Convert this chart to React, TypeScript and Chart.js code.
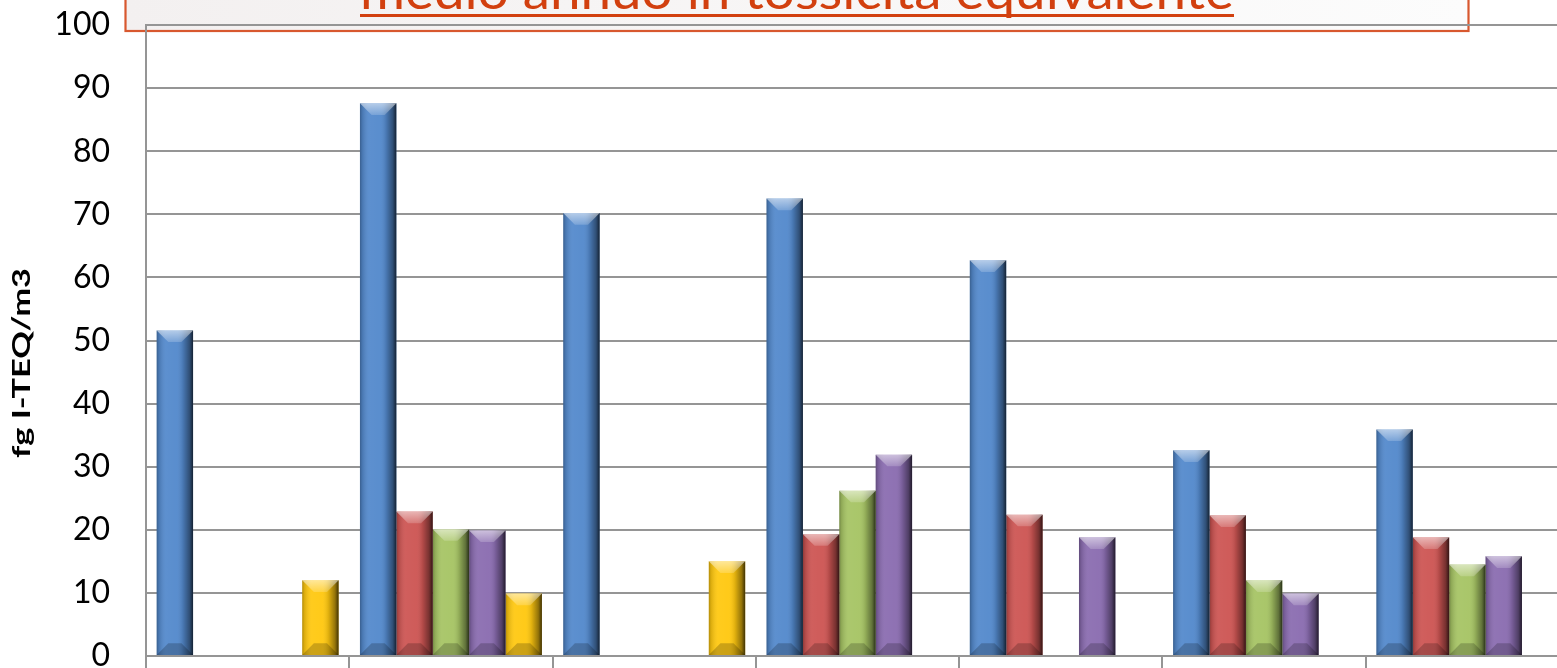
import React, { useEffect, useRef } from 'react';
import { Chart, registerables } from 'chart.js';

Chart.register(...registerables);

// ---- data ----
const categories = ['1', '2', '3', '4', '5', '6', '7'];
const seriesNames = ['Serie 1', 'Serie 2', 'Serie 3', 'Serie 4', 'Serie 5'];
const blueValues = [51.6, 87.6, 70.2, 72.5, 62.7, 32.6, 35.9];
const redValues = [null, 22.9, null, 19.3, 22.4, 22.3, 18.8];
const greenValues = [null, 20.1, null, 26.2, null, 12.0, 14.5];
const purpleValues = [null, 19.9, null, 31.9, 18.8, 9.9, 15.8];
const yellowValues = [12.0, 9.9, 15.0, null, null, null, null];
const yMin = 0;
const yMax = 100;
const yStep = 10;
const yAxisTitle = 'fg I-TEQ/m3';
const chartTitle = 'medio annuo in tossicità equivalente';

const seriesValues = [blueValues, redValues, greenValues, purpleValues, yellowValues];
const seriesColors = ['#5389cc', '#cd5553', '#a6c464', '#8a6cb0', '#ffc810'];

const GRID = '#959595';

const titleBoxPlugin = {
  id: 'titleBox',
  beforeDraw(chart: any) {
    const ctx = chart.ctx as CanvasRenderingContext2D;
    ctx.save();
    const bx = 125.5, by = -30, bw = 1343, bh = 61;
    const g = ctx.createLinearGradient(bx, 0, bx + bw, 0);
    g.addColorStop(0, '#f3f0f0');
    g.addColorStop(1, '#fcfcfc');
    ctx.fillStyle = g;
    ctx.fillRect(bx, by, bw, bh);
    ctx.strokeStyle = '#d8582f';
    ctx.lineWidth = 2.2;
    ctx.strokeRect(bx, by, bw, bh);
    // title text (only its lower part is visible)
    ctx.font = "50px Lato, 'Liberation Sans', sans-serif";
    ctx.fillStyle = '#d2400f';
    ctx.textAlign = 'left';
    ctx.textBaseline = 'alphabetic';
    const tw = ctx.measureText(chartTitle).width;
    const targetW = 874;
    ctx.save();
    ctx.translate(360, 9);
    ctx.scale(targetW / tw, 1);
    ctx.fillText(chartTitle, 0, 0);
    ctx.restore();
    ctx.fillRect(360, 14, targetW, 3);
    ctx.restore();
  },
};

const yTitlePlugin = {
  id: 'yTitle',
  afterDraw(chart: any) {
    const ctx = chart.ctx as CanvasRenderingContext2D;
    ctx.save();
    ctx.font = "bold 24px Lato, 'Liberation Sans', sans-serif";
    ctx.fillStyle = '#000';
    ctx.textAlign = 'center';
    ctx.textBaseline = 'alphabetic';
    const tw = ctx.measureText(yAxisTitle).width;
    ctx.translate(29.5, 363);
    ctx.rotate(-Math.PI / 2);
    ctx.scale(190 / tw, 1);
    ctx.fillText(yAxisTitle, 0, 0);
    ctx.restore();
  },
};

const bevelPlugin = {
  id: 'bevel',
  afterDatasetsDraw(chart: any) {
    const ctx = chart.ctx as CanvasRenderingContext2D;
    ctx.save();
    chart.data.datasets.forEach((ds: any, i: number) => {
      const meta = chart.getDatasetMeta(i);
      meta.data.forEach((el: any, j: number) => {
        if (ds.data[j] === null || ds.data[j] === undefined) return;
        const p = el.getProps(['x', 'y', 'base', 'width'], true);
        const l = p.x - p.width / 2;
        const r = p.x + p.width / 2;
        const t = Math.min(p.y, p.base);
        const b = Math.max(p.y, p.base);
        const w = r - l;
        const h = b - t;
        if (w <= 0 || h <= 0) return;
        const bv = Math.min(w * 0.32, h / 2, 12);
        const g = ctx.createLinearGradient(l, 0, r, 0);
        g.addColorStop(0, 'rgba(0,0,0,0.30)');
        g.addColorStop(0.06, 'rgba(0,0,0,0.14)');
        g.addColorStop(0.25, 'rgba(255,255,255,0.06)');
        g.addColorStop(0.55, 'rgba(255,255,255,0.04)');
        g.addColorStop(0.72, 'rgba(0,0,0,0.12)');
        g.addColorStop(0.9, 'rgba(0,0,0,0.42)');
        g.addColorStop(1, 'rgba(0,0,0,0.75)');
        ctx.fillStyle = g;
        ctx.fillRect(l, t, w, h);
        // top facet
        const tg = ctx.createLinearGradient(0, t, 0, t + bv);
        tg.addColorStop(0, 'rgba(255,255,255,0.55)');
        tg.addColorStop(1, 'rgba(255,255,255,0.18)');
        ctx.fillStyle = tg;
        ctx.beginPath();
        ctx.moveTo(l, t);
        ctx.lineTo(r, t);
        ctx.lineTo(r - bv, t + bv);
        ctx.lineTo(l + bv, t + bv);
        ctx.closePath();
        ctx.fill();
        // bottom facet
        ctx.fillStyle = 'rgba(0,0,0,0.2)';
        ctx.beginPath();
        ctx.moveTo(l, b);
        ctx.lineTo(r, b);
        ctx.lineTo(r - bv, b - bv);
        ctx.lineTo(l + bv, b - bv);
        ctx.closePath();
        ctx.fill();
      });
    });
    ctx.restore();
  },
};

export default function App() {
  const ref = useRef<HTMLCanvasElement | null>(null);

  useEffect(() => {
    if (!ref.current) return;
    const chart = new Chart(ref.current, {
      type: 'bar',
      data: {
        labels: categories,
        datasets: seriesValues.map((vals, i) => ({
          label: seriesNames[i],
          data: vals as any,
          backgroundColor: seriesColors[i],
          borderWidth: 0,
          categoryPercentage: 0.895,
          barPercentage: 1,
        })),
      },
      options: {
        responsive: false,
        animation: false,
        devicePixelRatio: 1,
        layout: { padding: { top: 25, left: 0, right: 0, bottom: 0 } },
        plugins: {
          legend: { display: false },
          title: { display: false },
          tooltip: { enabled: false },
        },
        scales: {
          x: {
            grid: {
              display: true,
              drawOnChartArea: false,
              drawTicks: true,
              tickLength: 12,
              color: GRID,
              lineWidth: 2,
              offset: true,
            },
            border: { display: true, color: GRID, width: 2 },
            ticks: { display: false },
            afterFit: (s: any) => {
              s.height = 12;
              s.paddingLeft = 0;
              s.paddingRight = 0;
            },
          },
          y: {
            min: yMin,
            max: yMax,
            ticks: {
              stepSize: yStep,
              padding: 36,
              color: '#000',
              font: { family: "Lato, 'Liberation Sans', sans-serif", size: 32 },
            },
            grid: { color: GRID, lineWidth: 2, drawTicks: false },
            border: { display: true, color: GRID, width: 2 },
            afterFit: (s: any) => {
              s.width = 146;
              s.paddingTop = 0;
              s.paddingBottom = 0;
            },
          },
        },
      },
      plugins: [titleBoxPlugin, bevelPlugin, yTitlePlugin],
    });
    return () => chart.destroy();
  }, []);

  return (
    <div
      style={{
        position: 'fixed',
        left: 0,
        top: 0,
        width: 1557,
        height: 668,
        overflow: 'hidden',
        background: '#fff',
      }}
    >
      <canvas ref={ref} width={1569} height={668} style={{ width: 1569, height: 668, display: 'block' }} />
    </div>
  );
}
